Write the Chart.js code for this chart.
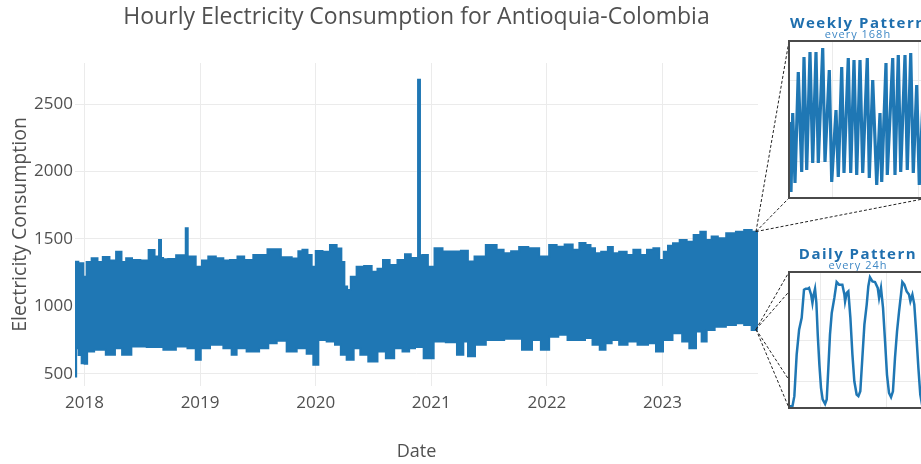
<!DOCTYPE html>
<html>
<head>
<meta charset="utf-8">
<script src="https://cdn.jsdelivr.net/npm/chart.js@4.4.0/dist/chart.umd.min.js"></script>
<style>
  html, body { margin: 0; padding: 0; background: #fff; overflow: hidden; }
  #wrap { position: relative; width: 921px; height: 464px; overflow: hidden; }
  #main, #links { position: absolute; left: 0; top: 0; }
  .inset { position: absolute; left: 788px; width: 140px; box-sizing: border-box;
           border: 2px solid #4a4a4a; background: #fff; }
  .inset canvas { display: block; }
  .label { position: absolute; left: 790px; width: 136px; text-align: center; white-space: nowrap;
           font-family: 'Open Sans', sans-serif; line-height: 1; }
  .label.big { font-size: 15px; font-weight: 700; letter-spacing: 1.5px; color: #1f6fae; }
  .label.small { font-size: 11px; letter-spacing: 1px; color: #3f88c5; }
</style>
</head>
<body>
<div id="wrap">
  <canvas id="main" width="921" height="464"></canvas>
  <canvas id="links" width="921" height="464"></canvas>

  <div class="label big" style="top:15px">Weekly Pattern</div>
  <div class="label small" style="top:28px">every 168h</div>
  <div class="inset" style="top:40px;height:159px"><canvas id="weekly" width="136" height="155"></canvas></div>

  <div class="label big" style="top:246px">Daily Pattern</div>
  <div class="label small" style="top:259px">every 24h</div>
  <div class="inset" style="top:271px;height:138px"><canvas id="daily" width="136" height="134"></canvas></div>
</div>
<script>
// Hourly series is too dense to redraw point by point, so the main panel is
// the band it paints: its upper and lower envelope,
// with the fill between them. Years are decimal (2020.5 = mid 2020).
const upperYears = [
  2017.918, 2017.976, 2018.004, 2018.033, 2018.091, 2018.134, 2018.183, 2018.249, 2018.298, 2018.342,
  2018.379, 2018.443, 2018.523, 2018.587, 2018.625, 2018.643, 2018.647, 2018.660, 2018.664, 2018.696,
  2018.754, 2018.832, 2018.874, 2018.878, 2018.891, 2018.895, 2018.933, 2018.991, 2019.042, 2019.100,
  2019.172, 2019.230, 2019.287, 2019.360, 2019.403, 2019.518, 2019.648, 2019.749, 2019.836, 2019.864,
  2019.907, 2019.951, 2019.979, 2020.022, 2020.095, 2020.152, 2020.210, 2020.234, 2020.262, 2020.282,
  2020.325, 2020.383, 2020.455, 2020.513, 2020.556, 2020.608, 2020.671, 2020.744, 2020.801, 2020.844,
  2020.883, 2020.888, 2020.900, 2020.904, 2020.946, 2020.995, 2021.061, 2021.133, 2021.220, 2021.292,
  2021.341, 2021.407, 2021.536, 2021.594, 2021.657, 2021.724, 2021.796, 2021.882, 2021.984, 2022.055,
  2022.113, 2022.194, 2022.252, 2022.310, 2022.358, 2022.396, 2022.436, 2022.503, 2022.552, 2022.589,
  2022.661, 2022.719, 2022.777, 2022.840, 2022.892, 2022.950, 2022.993, 2023.030, 2023.065, 2023.117,
  2023.180, 2023.238, 2023.301, 2023.353, 2023.396, 2023.454, 2023.503, 2023.599, 2023.671, 2023.742,
  2023.800, 2023.826
];
const upperValues = [
  1332, 1320, 1221, 1330, 1357, 1330, 1366, 1340, 1406, 1330,
  1357, 1345, 1340, 1419, 1370, 1370, 1493, 1493, 1360, 1350,
  1352, 1380, 1380, 1579, 1579, 1370, 1370, 1295, 1340, 1370,
  1357, 1340, 1345, 1370, 1345, 1382, 1424, 1365, 1355, 1410,
  1420, 1382, 1295, 1411, 1405, 1456, 1430, 1330, 1147, 1122,
  1221, 1295, 1300, 1258, 1280, 1345, 1308, 1345, 1387, 1360,
  1360, 2680, 2680, 1380, 1382, 1295, 1431, 1407, 1407, 1412,
  1333, 1370, 1456, 1420, 1395, 1410, 1440, 1431, 1370, 1456,
  1443, 1460, 1420, 1470, 1456, 1431, 1395, 1405, 1440, 1395,
  1405, 1382, 1420, 1382, 1420, 1431, 1345, 1405, 1450, 1468,
  1493, 1480, 1530, 1554, 1493, 1518, 1505, 1543, 1554, 1567,
  1554, 1555
];
const lowerYears = [
  2017.918, 2017.938, 2017.961, 2017.990, 2018.013, 2018.033, 2018.134, 2018.235, 2018.292, 2018.359,
  2018.452, 2018.625, 2018.740, 2018.841, 2018.941, 2018.984, 2019.028, 2019.144, 2019.259, 2019.287,
  2019.345, 2019.460, 2019.561, 2019.619, 2019.706, 2019.792, 2019.879, 2019.965, 2019.994, 2020.052,
  2020.138, 2020.196, 2020.239, 2020.297, 2020.360, 2020.412, 2020.498, 2020.571, 2020.643, 2020.715,
  2020.787, 2020.830, 2020.888, 2020.980, 2021.061, 2021.190, 2021.254, 2021.300, 2021.335, 2021.421,
  2021.522, 2021.739, 2021.830, 2021.912, 2021.984, 2022.055, 2022.142, 2022.215, 2022.301, 2022.358,
  2022.431, 2022.483, 2022.531, 2022.589, 2022.661, 2022.734, 2022.834, 2022.915, 2022.972, 2023.036,
  2023.137, 2023.203, 2023.261, 2023.318, 2023.359, 2023.405, 2023.497, 2023.599, 2023.671, 2023.742,
  2023.800, 2023.826
];
const lowerValues = [
  480, 690, 640, 579, 575, 665, 678, 641, 690, 641,
  702, 700, 678, 702, 690, 604, 690, 715, 690, 641,
  690, 665, 690, 727, 745, 665, 690, 650, 567, 752,
  740, 715, 641, 604, 690, 641, 591, 665, 616, 690,
  665, 690, 700, 616, 740, 735, 641, 740, 630, 715,
  752, 760, 678, 752, 678, 776, 790, 752, 752, 765,
  715, 678, 727, 752, 715, 740, 715, 727, 665, 752,
  802, 740, 690, 815, 740, 826, 850, 863, 876, 863,
  826, 830
];
const yearTicks = [2018, 2019, 2020, 2021, 2022, 2023];
const consumptionTicks = [500, 1000, 1500, 2000, 2500];

// Inset 1: about three weeks at the end of the series (hours from the box edge).
const weeklyHours = [
  3.5, 7, 13, 21, 32.5, 44.5, 52.5, 62, 73.5, 83,
  94.5, 102.5, 118, 126, 141, 149.5, 164.5, 172.5, 184.5, 192.5,
  207.5, 216, 227.5, 237, 248.5, 258, 274, 281, 293, 307,
  318.5, 324.5, 339.5, 344, 363, 371, 382.5, 391, 406, 414,
  426, 435, 447, 456, 469
];
const weeklyValues = [
  1195, 845, 1240, 890, 1445, 945, 1520, 955, 1545, 990,
  1545, 990, 1565, 995, 1455, 895, 1255, 920, 1470, 940,
  1515, 940, 1505, 930, 1505, 940, 1515, 915, 1405, 880,
  1240, 895, 1490, 930, 1515, 930, 1530, 945, 1530, 955,
  1540, 940, 1380, 880, 1305
];

// Inset 2: about four days, same units.
const dailyHours = [
  0.7, 2.5, 3.9, 5.6, 7.4, 9.3, 11.0, 12.3, 13.7, 14.7,
  16.2, 17.2, 18.1, 19.1, 20.1, 21.1, 22.3, 23.5, 24.7, 26.5,
  27.7, 28.9, 30.1, 31.4, 33.3, 35.0, 36.8, 39.2, 40.7, 41.2,
  42.4, 43.6, 45.1, 46.6, 48.0, 49.7, 51.0, 52.4, 53.9, 55.4,
  57.1, 58.3, 59.5, 61.3, 63.2, 65.2, 66.2, 67.6, 69.1, 70.6,
  72.0, 73.5, 75.0, 76.4, 77.9, 79.4, 80.9, 82.3, 83.3, 84.8,
  86.5, 88.2, 89.2, 90.7, 92.1, 93.6, 95.1, 96.5, 98.0
];
const dailyValues = [
  878, 878, 927, 1131, 1253, 1311, 1449, 1454, 1454, 1458,
  1425, 1384, 1425, 1454, 1384, 1229, 1082, 968, 911, 889,
  911, 1066, 1229, 1335, 1409, 1487, 1474, 1474, 1425, 1392,
  1433, 1441, 1311, 1131, 1000, 935, 927, 951, 1115, 1278,
  1376, 1466, 1510, 1490, 1487, 1458, 1409, 1458, 1360, 1196,
  1033, 943, 922, 951, 1115, 1245, 1343, 1425, 1487, 1474,
  1441, 1425, 1392, 1425, 1376, 1229, 1066, 935, 878
];

const BLUE = '#1f77b4';
const FONT = "'Open Sans', sans-serif";
const GRID = '#ebebeb';

function toPoints(xs, ys) {
  return xs.map(function(x, i) { return { x: x, y: ys[i] }; });
}

const mainChart = new Chart(document.getElementById('main'), {
  type: 'line',
  data: {
    datasets: [
      {
        data: toPoints(upperYears, upperValues),
        borderColor: BLUE,
        borderWidth: 2,
        pointRadius: 0,
        stepped: 'middle',
        fill: false,
      },
      {
        data: toPoints(lowerYears, lowerValues),
        borderColor: BLUE,
        backgroundColor: BLUE,
        borderWidth: 2,
        pointRadius: 0,
        stepped: 'middle',
        fill: '-1',
      }
    ]
  },
  options: {
    responsive: false,
    animation: false,
    events: [],
    layout: { padding: { left: 0, right: 163, top: 0, bottom: 0 } },
    plugins: {
      legend: { display: false },
      tooltip: { enabled: false },
      title: {
        display: true,
        fullSize: false,
        text: 'Hourly Electricity Consumption for Antioquia-Colombia',
        color: '#505050',
        font: { family: FONT, size: 23, weight: 'normal' },
        padding: { top: 4, bottom: 31.4 }
      }
    },
    scales: {
      x: {
        type: 'linear',
        min: 2017.918,
        max: 2023.826,
        afterBuildTicks: function(axis) { axis.ticks = yearTicks.map(function(v) { return { value: v }; }); },
        afterFit: function(axis) { axis.height = 78; },
        ticks: { color: '#505050', font: { family: FONT, size: 17 }, padding: 7, maxRotation: 0,
                 callback: function(v) { return String(v); } },
        grid: { color: GRID, drawTicks: false },
        border: { display: false },
        title: { display: true, text: 'Date', color: '#505050', font: { family: FONT, size: 18 },
                 padding: { top: 0, bottom: 1 } }
      },
      y: {
        min: 410,
        max: 2805,
        afterBuildTicks: function(axis) { axis.ticks = consumptionTicks.map(function(v) { return { value: v }; }); },
        afterFit: function(axis) { axis.width = 75; },
        ticks: { color: '#505050', font: { family: FONT, size: 17 }, padding: 2,
                 callback: function(v) { return String(v); } },
        grid: { color: GRID, drawTicks: false },
        border: { display: false },
        title: { display: true, text: 'Electricity Consumption', color: '#505050', font: { family: FONT, size: 19.5 },
                 padding: { top: 9, bottom: 0 } }
      }
    }
  }
});

function insetChart(id, hours, values, xRange, yRange, xGrid, yGrid, width) {
  return new Chart(document.getElementById(id), {
    type: 'line',
    data: {
      datasets: [{
        data: toPoints(hours, values),
        borderColor: BLUE,
        borderWidth: width,
        pointRadius: 0,
        tension: 0,
        fill: false,
      }]
    },
    options: {
      responsive: false,
      animation: false,
      events: [],
      layout: { padding: 0 },
      plugins: { legend: { display: false }, tooltip: { enabled: false } },
      scales: {
        x: {
          type: 'linear', min: xRange[0], max: xRange[1],
          afterBuildTicks: function(axis) { axis.ticks = xGrid.map(function(v) { return { value: v }; }); },
          ticks: { display: false },
          grid: { color: GRID, drawTicks: false },
          border: { display: false }
        },
        y: {
          min: yRange[0], max: yRange[1],
          afterBuildTicks: function(axis) { axis.ticks = yGrid.map(function(v) { return { value: v }; }); },
          ticks: { display: false },
          grid: { color: GRID, drawTicks: false },
          border: { display: false }
        }
      }
    }
  });
}

insetChart('weekly', weeklyHours, weeklyValues, [3.5, 479.5], [820, 1595], [152, 454], [1000, 1400], 3.2);
insetChart('daily', dailyHours, dailyValues, [0.7, 100.7], [874, 1531], [23.3, 71.3], [1000, 1200, 1400], 2.5);

// Dashed zoom connectors from the end of the band to the inset boxes.
function drawLinks(chart) {
  const ctx = document.getElementById('links').getContext('2d');
  const xs = chart.scales.x, ys = chart.scales.y;
  const wrap = document.getElementById('wrap').getBoundingClientRect();
  const boxes = document.querySelectorAll('.inset');
  const wk = boxes[0].getBoundingClientRect(), dy = boxes[1].getBoundingClientRect();
  const endX = xs.getPixelForValue(upperYears[upperYears.length - 1]) - 2;
  const topY = ys.getPixelForValue(upperValues[upperValues.length - 1]);
  const lowY = ys.getPixelForValue(lowerValues[lowerValues.length - 1]);

  ctx.strokeStyle = '#222';
  ctx.lineWidth = 1;
  ctx.setLineDash([3, 2]);
  function seg(x0, y0, x1, y1) {
    ctx.beginPath();
    ctx.moveTo(x0, y0);
    ctx.lineTo(x1, y1);
    ctx.stroke();
  }
  const wl = wk.left - wrap.left + 1, wt = wk.top - wrap.top + 1, wb = wk.bottom - wrap.top - 1, wr = wk.right - wrap.left;
  seg(endX, topY, wl, wt);
  seg(endX, topY, wl, wb);
  seg(endX, topY, wr, wb);

  const dl = dy.left - wrap.left + 1, dt = dy.top - wrap.top + 1, db = dy.bottom - wrap.top - 1;
  const h = db - dt;
  [0, 0.145, 0.794, 1].forEach(function(f) { seg(endX, lowY, dl, dt + f * h); });
}
drawLinks(mainChart);
</script>
</body>
</html>
